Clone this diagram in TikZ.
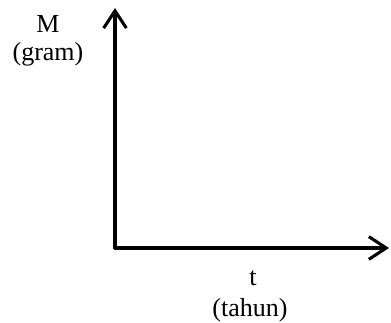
\documentclass[tikz,border=0pt]{standalone}
\usepackage{fontspec}
\setmainfont{Liberation Serif}
\usetikzlibrary{arrows.meta}
\begin{document}
\begin{tikzpicture}[x=0.75pt,y=-0.75pt,
  axis/.style={line width=2.3pt,-{Straight Barb[length=13pt,width=17pt,line width=2.3pt]}},
  lbl/.style={anchor=base,inner sep=0pt,font=\fontsize{19.5pt}{23pt}\selectfont}]
\useasboundingbox (0,0) rectangle (391,323);
\coordinate (O) at (115,248);
\coordinate (ytip) at (115,8);
\coordinate (xtip) at (389,248);
\draw[axis] ([yshift=-1.1pt]O) -- (ytip);
\draw[axis] ([xshift=-1.1pt]O) -- (xtip);
\node[lbl] (M) at (48,33) {M};
\node[lbl] (gram) at (48,61) {(gram)};
\node[lbl] (t) at (253,285) {t};
\node[lbl] (tahun) at (250,316) {(tahun)};
\end{tikzpicture}
\end{document}
